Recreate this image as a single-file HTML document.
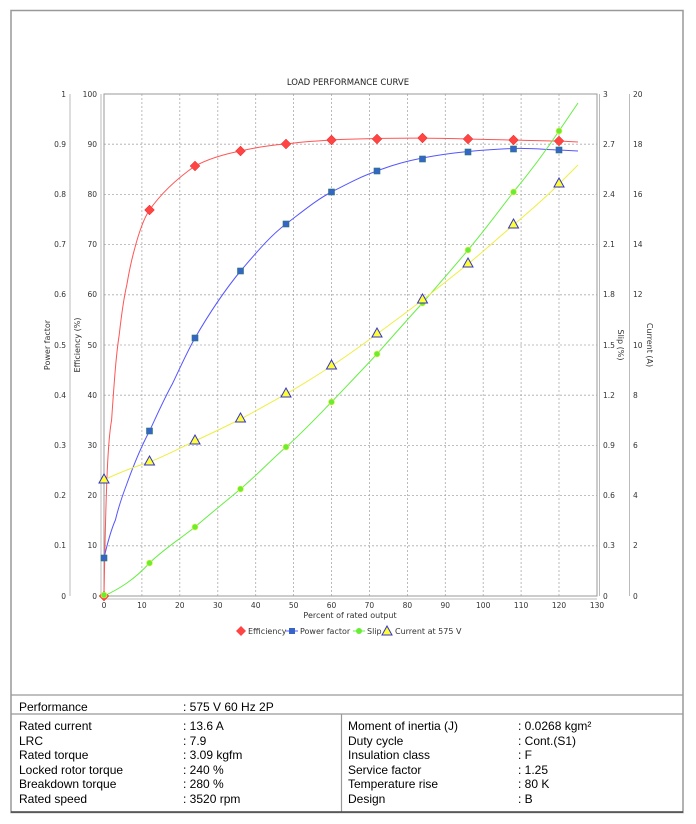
<!DOCTYPE html>
<html><head><meta charset="utf-8"><style>
body{margin:0;background:#fff;width:696px;height:824px;overflow:hidden}
svg{display:block}
.t{font-family:"DejaVu Sans","Liberation Sans",sans-serif;font-size:7.5px;fill:#333}
.tb{font-family:"Liberation Sans",Arial,sans-serif;font-size:12px;fill:#000}
</style></head><body>
<svg width="696" height="824" viewBox="0 0 696 824" xmlns="http://www.w3.org/2000/svg">
<rect x="11" y="10.5" width="672" height="802" fill="none" stroke="#999" stroke-width="1.5"/>
<text x="348" y="85" text-anchor="middle" style="font-family:'DejaVu Sans',sans-serif;font-size:8.5px;fill:#222">LOAD PERFORMANCE CURVE</text>
<!-- grid -->
<g stroke="#aaa" stroke-width="0.8" stroke-dasharray="2,2">
<line x1="141.9" y1="94" x2="141.9" y2="596"/><line x1="179.8" y1="94" x2="179.8" y2="596"/><line x1="217.8" y1="94" x2="217.8" y2="596"/><line x1="255.7" y1="94" x2="255.7" y2="596"/><line x1="293.6" y1="94" x2="293.6" y2="596"/><line x1="331.5" y1="94" x2="331.5" y2="596"/><line x1="369.4" y1="94" x2="369.4" y2="596"/><line x1="407.4" y1="94" x2="407.4" y2="596"/><line x1="445.3" y1="94" x2="445.3" y2="596"/><line x1="483.2" y1="94" x2="483.2" y2="596"/><line x1="521.1" y1="94" x2="521.1" y2="596"/><line x1="559" y1="94" x2="559" y2="596"/>
<line x1="104" y1="144.2" x2="597" y2="144.2"/><line x1="104" y1="194.4" x2="597" y2="194.4"/><line x1="104" y1="244.6" x2="597" y2="244.6"/><line x1="104" y1="294.8" x2="597" y2="294.8"/><line x1="104" y1="345" x2="597" y2="345"/><line x1="104" y1="395.2" x2="597" y2="395.2"/><line x1="104" y1="445.4" x2="597" y2="445.4"/><line x1="104" y1="495.6" x2="597" y2="495.6"/><line x1="104" y1="545.8" x2="597" y2="545.8"/>
</g>
<rect x="104" y="94" width="493" height="502" fill="none" stroke="#999" stroke-width="1"/>
<!-- axes -->
<g stroke="#bbb" stroke-width="1">
<line x1="70" y1="94" x2="70" y2="596"/><line x1="101" y1="94" x2="101" y2="596"/>
<line x1="599.5" y1="94" x2="599.5" y2="596"/><line x1="629.5" y1="94" x2="629.5" y2="596"/>
<line x1="104" y1="599" x2="597" y2="599"/>
</g>
<g class="t" text-anchor="end">
<text x="66" y="97">1</text><text x="66" y="147">0.9</text><text x="66" y="197">0.8</text><text x="66" y="247">0.7</text><text x="66" y="297">0.6</text><text x="66" y="348">0.5</text><text x="66" y="398">0.4</text><text x="66" y="448">0.3</text><text x="66" y="498">0.2</text><text x="66" y="548">0.1</text><text x="66" y="599">0</text>
<text x="97" y="97">100</text><text x="97" y="147">90</text><text x="97" y="197">80</text><text x="97" y="247">70</text><text x="97" y="297">60</text><text x="97" y="348">50</text><text x="97" y="398">40</text><text x="97" y="448">30</text><text x="97" y="498">20</text><text x="97" y="548">10</text><text x="97" y="599">0</text>
</g>
<g class="t">
<text x="603" y="97">3</text><text x="603" y="147">2.7</text><text x="603" y="197">2.4</text><text x="603" y="247">2.1</text><text x="603" y="297">1.8</text><text x="603" y="348">1.5</text><text x="603" y="398">1.2</text><text x="603" y="448">0.9</text><text x="603" y="498">0.6</text><text x="603" y="548">0.3</text><text x="603" y="599">0</text>
<text x="633" y="97">20</text><text x="633" y="147">18</text><text x="633" y="197">16</text><text x="633" y="247">14</text><text x="633" y="297">12</text><text x="633" y="348">10</text><text x="633" y="398">8</text><text x="633" y="448">6</text><text x="633" y="498">4</text><text x="633" y="548">2</text><text x="633" y="599">0</text>
</g>
<g class="t" text-anchor="middle">
<text x="104" y="608">0</text><text x="141.9" y="608">10</text><text x="179.8" y="608">20</text><text x="217.8" y="608">30</text><text x="255.7" y="608">40</text><text x="293.6" y="608">50</text><text x="331.5" y="608">60</text><text x="369.4" y="608">70</text><text x="407.4" y="608">80</text><text x="445.3" y="608">90</text><text x="483.2" y="608">100</text><text x="521.1" y="608">110</text><text x="559" y="608">120</text><text x="597" y="608">130</text>
<text x="350" y="618" style="font-size:8px">Percent of rated output</text>
<text transform="translate(50,345) rotate(-90)" style="font-size:8px">Power factor</text>
<text transform="translate(80,345) rotate(-90)" style="font-size:8px">Efficiency (%)</text>
<text transform="translate(618,345) rotate(90)" style="font-size:8px">Slip (%)</text>
<text transform="translate(647,345) rotate(90)" style="font-size:8px">Current (A)</text>
</g>
<!-- curves -->
<g fill="none" stroke-width="1">
<path stroke="#f55" d="M104,596 C106,480 108,440 111.6,420 C114,385 116,355 119.2,335 C122,310 124,297 126.8,285 C129,272 131,262 134.3,250 C139,232 144,218 149.5,210 C160,195 175,180 195,166 C210,158 225,154 240.5,151 C258,147 272,145 286,144 C300,142 315,141 331.5,140 C345,139 360,139 377,138.5 C400,138 440,138 468,139 C490,139.5 505,140 513.5,140 C530,140.5 545,141 559,141 L578,142"/>
<path stroke="#55f" d="M104,558 C107,545 111,530 115.4,520 C119,505 123,494 126.8,484 C134,464 141,447 149.5,431 C157,415 164,399 172.3,384 C180,368 187,352 195,338 C210,312 225,290 240.5,271 C256,253 270,236 286,224 C302,212 316,200 331.5,192 C347,184 362,176 377,171 C392,165 407,161 422.5,158 C438,155 453,153 468,151.5 C485,150 500,149 513.5,148.5 C530,148 545,149.5 559,150 L578,151"/>
<path stroke="#6e4" d="M104,596 C119,589 134,580 149.5,563 C165,548 180,539 195,527 C210,514 225,502 240.5,489 C256,476 270,461 286,447 C302,433 316,418 331.5,402 C347,386 362,370 377,354 C392,337 407,320 422.5,303 C438,285 453,268 468,250 C484,231 498,212 513.5,192 C530,172 545,152 559,131 L578,103"/>
<path stroke="#ee4" d="M104,480 C120,472 134,467 149.5,462 C165,456 180,448 195,441 C210,434 225,427 240.5,419 C256,411 270,403 286,394 C302,385 316,376 331.5,366 C347,356 362,345 377,334 C392,323 407,312 422.5,300 C438,288 453,276 468,264 C484,251 498,238 513.5,225 C530,211 545,198 559,184 L578,165"/>
</g>
<!-- markers -->
<g fill="#f44" stroke="#e33" stroke-width="0.5">
<path d="M104,591 l5,5 -5,5 -5,-5z"/><path d="M149.5,205 l5,5 -5,5 -5,-5z"/><path d="M195,161 l5,5 -5,5 -5,-5z"/><path d="M240.5,146 l5,5 -5,5 -5,-5z"/><path d="M286,139 l5,5 -5,5 -5,-5z"/><path d="M331.5,135 l5,5 -5,5 -5,-5z"/><path d="M377,134 l5,5 -5,5 -5,-5z"/><path d="M422.5,133 l5,5 -5,5 -5,-5z"/><path d="M468,134 l5,5 -5,5 -5,-5z"/><path d="M513.5,135 l5,5 -5,5 -5,-5z"/><path d="M559,136 l5,5 -5,5 -5,-5z"/>
</g>
<g fill="#3565c8" stroke="#2a7a6a" stroke-width="0.6">
<rect x="101" y="555" width="6" height="6"/><rect x="146.5" y="428" width="6" height="6"/><rect x="192" y="335" width="6" height="6"/><rect x="237.5" y="268" width="6" height="6"/><rect x="283" y="221" width="6" height="6"/><rect x="328.5" y="189" width="6" height="6"/><rect x="374" y="168" width="6" height="6"/><rect x="419.5" y="156" width="6" height="6"/><rect x="465" y="149" width="6" height="6"/><rect x="510.5" y="146" width="6" height="6"/><rect x="556" y="147" width="6" height="6"/>
</g>
<g fill="#6e3" stroke="#ee4" stroke-width="0.6">
<circle cx="104" cy="595" r="3"/><circle cx="149.5" cy="563" r="3"/><circle cx="195" cy="527" r="3"/><circle cx="240.5" cy="489" r="3"/><circle cx="286" cy="447" r="3"/><circle cx="331.5" cy="402" r="3"/><circle cx="377" cy="354" r="3"/><circle cx="422.5" cy="303" r="3"/><circle cx="468" cy="250" r="3"/><circle cx="513.5" cy="192" r="3"/><circle cx="559" cy="131" r="3"/>
</g>
<g fill="#ff3" stroke="#33c" stroke-width="1">
<path d="M104,474 l5,9 -10,0z"/><path d="M149.5,456 l5,9 -10,0z"/><path d="M195,435 l5,9 -10,0z"/><path d="M240.5,413 l5,9 -10,0z"/><path d="M286,388 l5,9 -10,0z"/><path d="M331.5,360 l5,9 -10,0z"/><path d="M377,328 l5,9 -10,0z"/><path d="M422.5,294 l5,9 -10,0z"/><path d="M468,258 l5,9 -10,0z"/><path d="M513.5,219 l5,9 -10,0z"/><path d="M559,178 l5,9 -10,0z"/>
</g>
<!-- legend -->
<g class="t" style="font-size:8px">
<path d="M241,626 l5,5 -5,5 -5,-5z" fill="#f44"/><text x="248" y="634">Efficiency</text>
<line x1="286" y1="631" x2="298" y2="631" stroke="#55f"/><rect x="289" y="628" width="6" height="6" fill="#3565c8"/><text x="300" y="634">Power factor</text>
<line x1="353" y1="631" x2="365" y2="631" stroke="#6e4"/><circle cx="359" cy="631" r="3" fill="#6e3"/><text x="367" y="634">Slip</text>
<path d="M387,626 l5,9 -10,0z" fill="#ff3" stroke="#33c"/><text x="395" y="634">Current at 575 V</text>
</g>
<!-- table -->
<g stroke="#999" stroke-width="1.2" fill="none">
<line x1="11" y1="695" x2="683" y2="695"/><line x1="11" y1="714" x2="683" y2="714"/><line x1="341.5" y1="714" x2="341.5" y2="812"/>
</g>
<line x1="11" y1="812" x2="683" y2="812" stroke="#444" stroke-width="1.5"/>
<g class="tb">
<text x="19" y="711">Performance</text><text x="183" y="711">: 575 V 60 Hz 2P</text>
<text x="19" y="730">Rated current</text><text x="183" y="730">: 13.6 A</text>
<text x="19" y="745">LRC</text><text x="183" y="745">: 7.9</text>
<text x="19" y="759">Rated torque</text><text x="183" y="759">: 3.09 kgfm</text>
<text x="19" y="774">Locked rotor torque</text><text x="183" y="774">: 240 %</text>
<text x="19" y="788">Breakdown torque</text><text x="183" y="788">: 280 %</text>
<text x="19" y="803">Rated speed</text><text x="183" y="803">: 3520 rpm</text>
<text x="348" y="730">Moment of inertia (J)</text><text x="518" y="730">: 0.0268 kgm²</text>
<text x="348" y="745">Duty cycle</text><text x="518" y="745">: Cont.(S1)</text>
<text x="348" y="759">Insulation class</text><text x="518" y="759">: F</text>
<text x="348" y="774">Service factor</text><text x="518" y="774">: 1.25</text>
<text x="348" y="788">Temperature rise</text><text x="518" y="788">: 80 K</text>
<text x="348" y="803">Design</text><text x="518" y="803">: B</text>
</g>
</svg>
</body></html>
